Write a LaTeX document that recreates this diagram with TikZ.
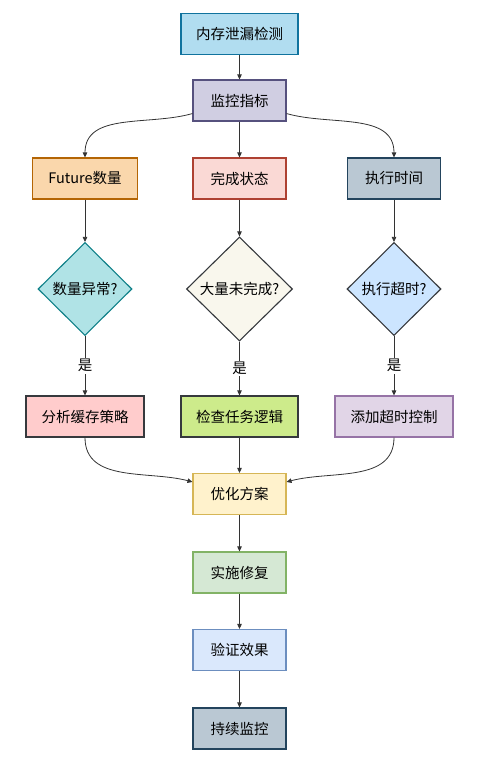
\documentclass[tikz,border=0pt]{standalone}
\usepackage{fontspec}
\setmainfont{Noto Sans CJK SC}
\usetikzlibrary{arrows.meta,shapes.geometric}

\definecolor{detectfill}{HTML}{B1DDF0}\definecolor{detectline}{HTML}{10739E}
\definecolor{metricfill}{HTML}{D0CEE2}\definecolor{metricline}{HTML}{56517E}
\definecolor{futfill}{HTML}{FAD7AC}\definecolor{futline}{HTML}{B46504}
\definecolor{donefill}{HTML}{FAD9D5}\definecolor{doneline}{HTML}{AE4132}
\definecolor{slatefill}{HTML}{BAC8D3}\definecolor{slateline}{HTML}{23445D}
\definecolor{tealfill}{HTML}{B0E3E6}\definecolor{tealline}{HTML}{0E8088}
\definecolor{creamfill}{HTML}{F9F7ED}\definecolor{darkline}{HTML}{36393D}
\definecolor{skyfill}{HTML}{CCE5FF}
\definecolor{pinkfill}{HTML}{FFCCCC}
\definecolor{limefill}{HTML}{CDEB8B}
\definecolor{lilacfill}{HTML}{E1D5E7}\definecolor{lilacline}{HTML}{9673A6}
\definecolor{planfill}{HTML}{FFF2CC}\definecolor{planline}{HTML}{D6B656}
\definecolor{fixfill}{HTML}{D5E8D4}\definecolor{fixline}{HTML}{82B366}
\definecolor{checkfill}{HTML}{DAE8FC}\definecolor{checkline}{HTML}{6C8EBF}
\definecolor{arrowline}{HTML}{333333}

\tikzset{
  box/.style={rectangle, line width=1.1pt, minimum height=41pt, inner sep=0pt,
    font=\fontsize{14.5}{17}\selectfont},
  ask/.style={diamond, line width=1.1pt, inner sep=0pt,
    font=\fontsize{14.5}{17}\selectfont},
  link/.style={->, draw=arrowline, line width=0.8pt},
  yes/.style={fill=white, inner sep=1.5pt, font=\fontsize{14.5}{17}\selectfont}
}

\begin{document}
\begin{tikzpicture}[x=1pt, y=-1pt, >={Triangle[length=5pt,width=4.5pt]}]
    \def\x{154.5}
    \useasboundingbox (0,0) rectangle (482,765);
    \node [box, fill=detectfill, draw=detectline, minimum width=117pt] (A0_1) at (85+1*\x, 34) {内存泄漏检测};
    \node [box, fill=metricfill, draw=metricline, minimum width=93pt] (A1_1) at (85+1*\x, 100.5) {监控指标};
    \node [box, fill=futfill, draw=futline, minimum width=105pt] (A2_0) at (85+0*\x, 178.5) {Future数量};
    \node [box, fill=donefill, draw=doneline, minimum width=93pt] (A2_1) at (85+1*\x, 178.5) {完成状态};
    \node [box, fill=slatefill, draw=slateline, minimum width=93pt] (A2_2) at (85+2*\x, 178.5) {执行时间};
    \node [ask, fill=tealfill, draw=tealline, minimum width=94pt, minimum height=93pt] (A3_0) at (85+0*\x, 289) {数量异常?};
    \node [ask, fill=creamfill, draw=darkline, minimum width=106pt, minimum height=104pt] (A3_1) at (85+1*\x, 289) {大量未完成?};
    \node [ask, fill=skyfill, draw=darkline, minimum width=94pt, minimum height=93pt] (A3_2) at (85+2*\x, 289) {执行超时?};
    \node [box, fill=pinkfill, draw=darkline, minimum width=118pt] (A4_0) at (85+0*\x, 416.5) {分析缓存策略};
    \node [box, fill=limefill, draw=darkline, minimum width=117pt] (A4_1) at (85+1*\x, 416.5) {检查任务逻辑};
    \node [box, fill=lilacfill, draw=lilacline, minimum width=118pt] (A4_2) at (85+2*\x, 416.5) {添加超时控制};
    \node [box, fill=planfill, draw=planline, minimum width=93pt] (A5_1) at (85+1*\x, 494) {优化方案};
    \node [box, fill=fixfill, draw=fixline, minimum width=93pt] (A6_1) at (85+1*\x, 572.5) {实施修复};
    \node [box, fill=checkfill, draw=checkline, minimum width=93pt] (A7_1) at (85+1*\x, 650) {验证效果};
    \node [box, fill=slatefill, draw=slateline, minimum width=93pt] (A8_1) at (85+1*\x, 728.5) {持续监控};
    \path (A0_1) edge [link] (A1_1);
    \path ([yshift=8pt]A1_1.south west) edge [link, out=196, in=90] (A2_0.north);
    \path (A1_1) edge [link] (A2_1);
    \path ([yshift=8pt]A1_1.south east) edge [link, out=-16, in=90] (A2_2.north);
    \path (A2_0) edge [link] (A3_0);
    \path (A2_1) edge [link] (A3_1);
    \path (A2_2) edge [link] (A3_2);
    \path (A3_0) edge [link] node [yes] {是} (A4_0);
    \path (A3_1) edge [link] node [yes] {是} (A4_1);
    \path (A3_2) edge [link] node [yes] {是} (A4_2);
    \path (A4_0.south) edge [link, out=270, in=165] ([yshift=-9pt]A5_1.north west);
    \path (A4_1) edge [link] (A5_1);
    \path (A4_2.south) edge [link, out=270, in=15] ([yshift=-9pt]A5_1.north east);
    \path (A5_1) edge [link] (A6_1);
    \path (A6_1) edge [link] (A7_1);
    \path (A7_1) edge [link] (A8_1);
  \end{tikzpicture}
\end{document}
